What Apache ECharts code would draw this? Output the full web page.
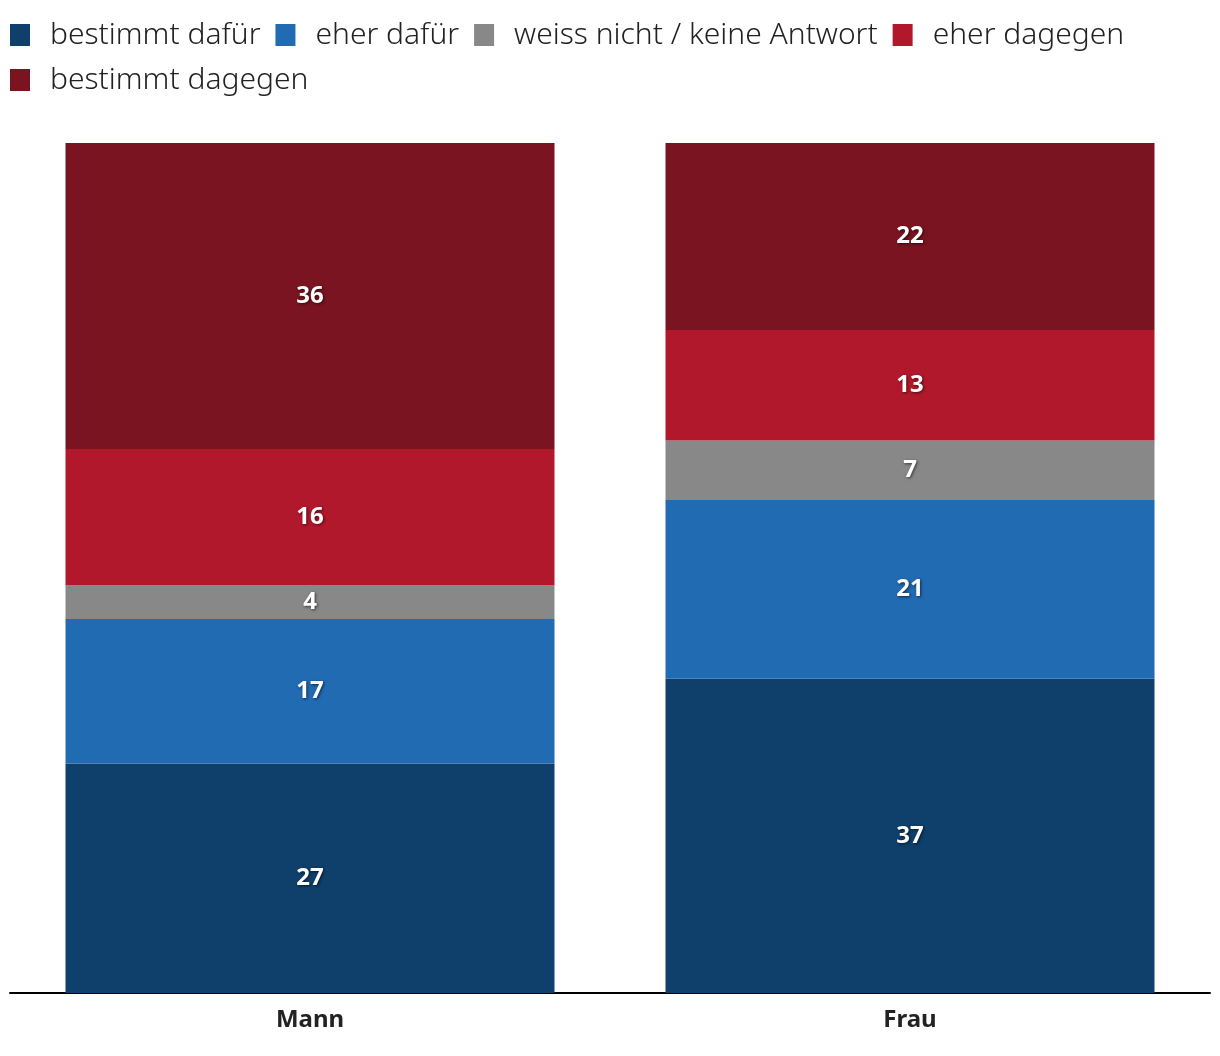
<!DOCTYPE html>
<html><head><meta charset="utf-8">
<script src="https://cdn.jsdelivr.net/npm/echarts@6/dist/echarts.min.js"></script>
<style>html,body{margin:0;padding:0;background:#fff}#c{width:1220px;height:1056px}</style>
</head><body><div id="c"></div>
<script>
const categories = ['Mann', 'Frau'];
const seriesNames = ['bestimmt dafür', 'eher dafür', 'weiss nicht / keine Antwort', 'eher dagegen', 'bestimmt dagegen'];
const bestimmtDafuer = [27, 37];
const eherDafuer = [17, 21];
const weissNicht = [4, 7];
const eherDagegen = [16, 13];
const bestimmtDagegen = [36, 22];
const colors = ['#0f3f6b', '#216bb3', '#888888', '#b2182b', '#7a1420'];
const values = [bestimmtDafuer, eherDafuer, weissNicht, eherDagegen, bestimmtDagegen];
const font = '"Noto Sans", sans-serif';

const chart = echarts.init(document.getElementById('c'));
chart.setOption({
  animation: false,
  color: colors,
  legend: {
    left: 10, top: 20, width: 1200, padding: 0,
    itemWidth: 20, itemHeight: 22, itemGap: 15,
    icon: 'rect',
    textStyle: { fontFamily: font, fontSize: 30, fontWeight: 300, color: '#222', padding: [0, 8, 0, 15] },
    data: seriesNames
  },
  grid: { left: 10, right: 10, top: 143, bottom: 63, containLabel: false },
  xAxis: {
    type: 'category', data: categories,
    axisLine: { lineStyle: { color: '#000', width: 2 } },
    axisTick: { show: false },
    axisLabel: { margin: 15, fontFamily: font, fontSize: 24, fontWeight: 'bold', color: '#222' }
  },
  yAxis: { type: 'value', min: 0, max: 100, show: false, splitLine: { show: false } },
  series: seriesNames.map((n, i) => ({
    name: n, type: 'bar', stack: 'total', data: values[i],
    barCategoryGap: '18.5%',
    label: {
      show: true, position: 'inside', fontFamily: font, fontSize: 24, fontWeight: 'bold', color: '#fff',
      textShadowColor: 'rgba(0,0,0,0.6)', textShadowBlur: 3, textShadowOffsetX: 1, textShadowOffsetY: 1
    }
  }))
});
</script></body></html>
